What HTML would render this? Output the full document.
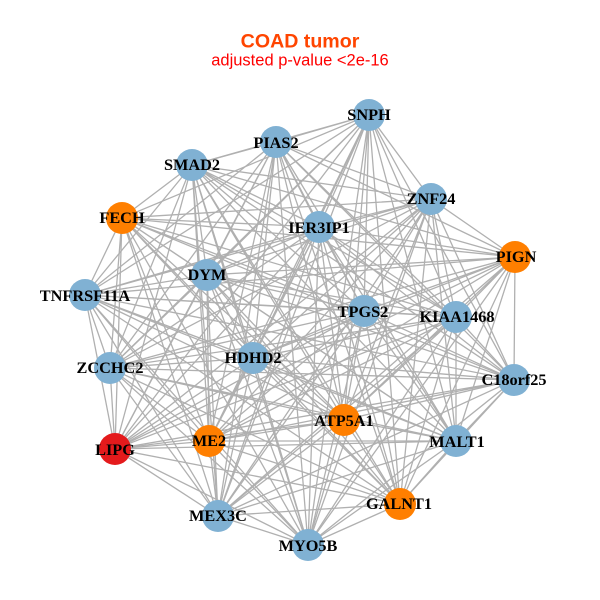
<!DOCTYPE html>
<html><head><meta charset="utf-8"><style>
html,body{margin:0;padding:0;background:#fff;width:600px;height:600px;overflow:hidden}
svg{display:block}
.l text{font-family:"Liberation Serif",serif;font-weight:bold;font-size:16.3px;fill:#000;text-anchor:middle}
</style></head><body>
<svg width="600" height="600" viewBox="0 0 600 600" xmlns="http://www.w3.org/2000/svg">
<rect width="600" height="600" fill="#fff"/>
<text x="300" y="47.5" text-anchor="middle" font-family="Liberation Sans, sans-serif" font-weight="bold" font-size="19.6" fill="#ff4500">COAD tumor</text>
<text x="300" y="65.5" text-anchor="middle" font-family="Liberation Sans, sans-serif" font-size="16.5" fill="#ff0000">adjusted p-value &lt;2e-16</text>
<g fill="none" stroke="#b0b0b0" stroke-width="1.3">
<path d="M369 115L276 142 369 115 192 165 369 115 431 199 369 115 122 218 369 115 319 227 369 115 207 275 369 115 85 295 369 115 364 311 369 115 456 317 369 115 110 368 369 115 253 358 369 115 514 380 369 115 344 420 369 115 209 441 369 115 115 449 369 115 456 441 369 115 218 516 369 115 400 504 369 115 308 545"/>
<path d="M276 142L192 165 276 142 431 199 276 142 319 227 276 142 515 257 276 142 207 275 276 142 85 295 276 142 364 311 276 142 456 317 276 142 110 368 276 142 253 358 276 142 514 380 276 142 344 420 276 142 209 441 276 142 115 449 276 142 456 441 276 142 218 516 276 142 400 504 276 142 308 545"/>
<path d="M192 165L431 199 192 165 122 218 192 165 319 227 192 165 515 257 192 165 207 275 192 165 85 295 192 165 364 311 192 165 456 317 192 165 110 368 192 165 253 358 192 165 514 380 192 165 344 420 192 165 209 441 192 165 115 449 192 165 456 441 192 165 218 516 192 165 400 504 192 165 308 545"/>
<path d="M431 199L122 218 431 199 319 227 431 199 515 257 431 199 207 275 431 199 85 295 431 199 364 311 431 199 456 317 431 199 110 368 431 199 253 358 431 199 514 380 431 199 344 420 431 199 209 441 431 199 115 449 431 199 456 441 431 199 218 516 431 199 400 504 431 199 308 545"/>
<path d="M122 218L319 227 122 218 515 257 122 218 207 275 122 218 85 295 122 218 364 311 122 218 456 317 122 218 110 368 122 218 253 358 122 218 514 380 122 218 344 420 122 218 209 441 122 218 115 449 122 218 456 441 122 218 218 516 122 218 400 504 122 218 308 545"/>
<path d="M319 227L515 257 319 227 207 275 319 227 85 295 319 227 364 311 319 227 456 317 319 227 110 368 319 227 253 358 319 227 514 380 319 227 344 420 319 227 209 441 319 227 115 449 319 227 456 441 319 227 218 516 319 227 400 504 319 227 308 545"/>
<path d="M515 257L207 275 515 257 85 295 515 257 364 311 515 257 456 317 515 257 110 368 515 257 253 358 515 257 514 380 515 257 344 420 515 257 209 441 515 257 115 449 515 257 456 441 515 257 218 516 515 257 400 504 515 257 308 545"/>
<path d="M207 275L85 295 207 275 364 311 207 275 456 317 207 275 110 368 207 275 253 358 207 275 514 380 207 275 344 420 207 275 209 441 207 275 115 449 207 275 456 441 207 275 218 516 207 275 400 504 207 275 308 545"/>
<path d="M85 295L364 311 85 295 456 317 85 295 110 368 85 295 253 358 85 295 514 380 85 295 344 420 85 295 209 441 85 295 115 449 85 295 456 441 85 295 218 516 85 295 400 504 85 295 308 545"/>
<path d="M364 311L456 317 364 311 110 368 364 311 253 358 364 311 514 380 364 311 344 420 364 311 209 441 364 311 115 449 364 311 456 441 364 311 218 516 364 311 400 504 364 311 308 545"/>
<path d="M456 317L110 368 456 317 253 358 456 317 514 380 456 317 344 420 456 317 209 441 456 317 115 449 456 317 456 441 456 317 218 516 456 317 400 504 456 317 308 545"/>
<path d="M110 368L253 358 110 368 514 380 110 368 344 420 110 368 209 441 110 368 115 449 110 368 456 441 110 368 218 516 110 368 400 504 110 368 308 545"/>
<path d="M253 358L514 380 253 358 344 420 253 358 209 441 253 358 115 449 253 358 456 441 253 358 218 516 253 358 400 504 253 358 308 545"/>
<path d="M514 380L344 420 514 380 209 441 514 380 115 449 514 380 456 441 514 380 218 516 514 380 400 504 514 380 308 545"/>
<path d="M344 420L209 441 344 420 115 449 344 420 456 441 344 420 218 516 344 420 400 504 344 420 308 545"/>
<path d="M209 441L115 449 209 441 456 441 209 441 218 516 209 441 400 504 209 441 308 545"/>
<path d="M115 449L456 441 115 449 218 516 115 449 400 504 115 449 308 545"/>
<path d="M456 441L218 516 456 441 400 504 456 441 308 545"/>
<path d="M218 516L400 504 218 516 308 545"/>
<path d="M400 504L308 545"/>
</g>
<g fill="#80b1d3">
<circle cx="369" cy="115" r="16"/><circle cx="276" cy="142" r="16"/><circle cx="192" cy="165" r="16"/><circle cx="431" cy="199" r="16"/><circle cx="319" cy="227" r="16"/><circle cx="207" cy="275" r="16"/><circle cx="85" cy="295" r="16"/><circle cx="364" cy="311" r="16"/><circle cx="456" cy="317" r="16"/><circle cx="110" cy="368" r="16"/><circle cx="253" cy="358" r="16"/><circle cx="514" cy="380" r="16"/><circle cx="456" cy="441" r="16"/><circle cx="218" cy="516" r="16"/><circle cx="308" cy="545" r="16"/>
</g>
<g fill="#ff7f00">
<circle cx="122" cy="218" r="16"/><circle cx="515" cy="257" r="16"/><circle cx="344" cy="420" r="16"/><circle cx="209" cy="441" r="16"/><circle cx="400" cy="504" r="16"/>
</g>
<circle cx="115" cy="449" r="16" fill="#e41a1c"/>
<g class="l">
<text x="369" y="120">SNPH</text>
<text x="276" y="148">PIAS2</text>
<text x="192" y="170">SMAD2</text>
<text x="431" y="204">ZNF24</text>
<text x="122" y="223">FECH</text>
<text x="319" y="233">IER3IP1</text>
<text x="516" y="262">PIGN</text>
<text x="207" y="280">DYM</text>
<text x="85" y="301">TNFRSF11A</text>
<text x="363" y="317">TPGS2</text>
<text x="457" y="322">KIAA1468</text>
<text x="110" y="373">ZCCHC2</text>
<text x="253" y="363">HDHD2</text>
<text x="514" y="385">C18orf25</text>
<text x="344" y="426">ATP5A1</text>
<text x="209" y="446">ME2</text>
<text x="115" y="455">LIPG</text>
<text x="457" y="447">MALT1</text>
<text x="218" y="521">MEX3C</text>
<text x="399" y="509">GALNT1</text>
<text x="308" y="551">MYO5B</text>
</g>
</svg>
</body></html>
